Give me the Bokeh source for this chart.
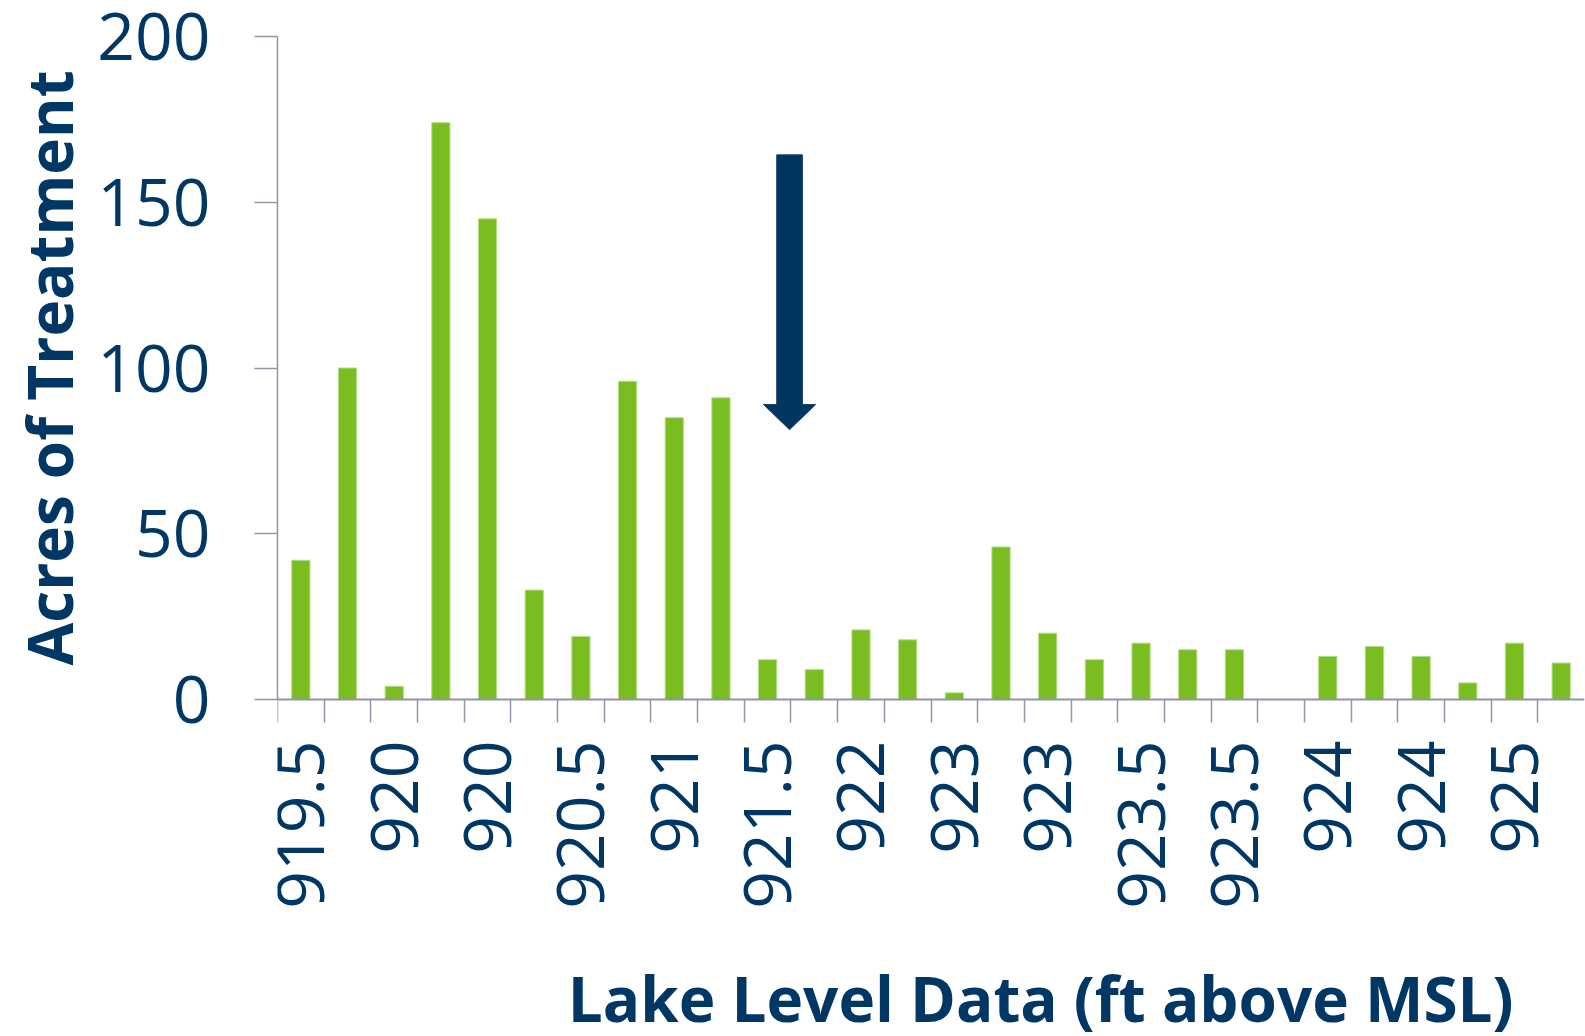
import math
from bokeh.plotting import figure
from bokeh.models import Range1d, FixedTicker, Label, Title, ColumnDataSource
from bokeh.embed import file_html
from bokeh.resources import INLINE

# ---- data ----
positions = list(range(1, 29))
acres = [42, 100, 4, 174, 145, 33, 19, 96, 85, 91, 12, 9, 21, 18, 2, 46,
         20, 12, 17, 15, 15, 0, 13, 16, 13, 5, 17, 11]
label_positions = [1, 3, 5, 7, 9, 11, 13, 15, 17, 19, 21, 23, 25, 27]
tick_labels = ["919.5", "920", "920", "920.5", "921", "921.5", "922",
               "923", "923", "923.5", "923.5", "924", "924", "925"]
y_ticks = [0, 50, 100, 150, 200]
x_title = "Lake Level Data (ft above MSL)"
y_title = "Acres of Treatment"

# arrow annotation (category units / acres)
arrow_x = 11.47
arrow_top = 164.3
arrow_head_base = 89.0
arrow_tip = 81.4
arrow_shaft_half = 0.275
arrow_head_half = 0.56

NAVY = "#003764"
GREEN = "#7ABD21"
GRAY = "#8F96A6"

# layout constants (pixels)
W, H = 1585, 1036
TOP, AXIS_Y = 36, 699          # pixel rows of y=200 and y=0
Y_MAX = 200
y_start = Y_MAX - (H - TOP) / (AXIS_Y - TOP) * Y_MAX   # frame runs to the bottom edge

p = figure(width=W, height=H, output_backend="svg", toolbar_location=None,
           x_range=Range1d(0.5, 28.5), y_range=Range1d(y_start, Y_MAX),
           min_border_left=277, min_border_right=1, min_border_top=TOP,
           min_border_bottom=0)
p.outline_line_color = None
p.xgrid.grid_line_color = None
p.ygrid.grid_line_color = None
p.background_fill_color = "white"
p.border_fill_color = "white"

src = ColumnDataSource(dict(x=positions, top=acres))
p.vbar(x="x", top="top", width=0.39, bottom=0, source=src,
       fill_color=GREEN, line_color="#B3DC88", line_width=1)

ax = arrow_x
arrow_xs = [ax - arrow_shaft_half, ax + arrow_shaft_half, ax + arrow_shaft_half,
            ax + arrow_head_half, ax, ax - arrow_head_half, ax - arrow_shaft_half]
arrow_ys = [arrow_top, arrow_top, arrow_head_base, arrow_head_base, arrow_tip,
            arrow_head_base, arrow_head_base]
p.patch(arrow_xs, arrow_ys, fill_color="#003660", line_color="#1d3f66", line_width=1)

# x axis, drawn at y = 0 inside the frame
xa = p.xaxis[0]
xa.fixed_location = 0
xa.ticker = FixedTicker(ticks=label_positions,
                        minor_ticks=[i + 0.5 for i in range(0, 28)])
xa.major_label_overrides = {k: v for k, v in zip(label_positions, tick_labels)}
xa.major_tick_out = 0
xa.major_tick_in = 0
xa.minor_tick_out = 23
xa.minor_tick_in = 0
xa.minor_tick_line_color = GRAY
xa.minor_tick_line_width = 1.5
xa.axis_line_color = GRAY
xa.axis_line_width = 2
xa.major_label_orientation = math.pi / 2
xa.major_label_standoff = 18
xa.major_label_text_font = "Open Sans"
xa.major_label_text_font_size = "66px"
xa.major_label_text_color = NAVY

# y axis
ya = p.yaxis[0]
ya.bounds = (0, Y_MAX)
ya.ticker = FixedTicker(ticks=y_ticks)
ya.major_tick_out = 23
ya.major_tick_in = 0
ya.minor_tick_out = 0
ya.minor_tick_in = 0
ya.major_tick_line_color = GRAY
ya.major_tick_line_width = 1.5
ya.axis_line_color = GRAY
ya.axis_line_width = 1.5
ya.major_label_standoff = 44
ya.major_label_text_font = "Open Sans"
ya.major_label_text_font_size = "66px"
ya.major_label_text_color = NAVY

# y-axis title, centred on the 0..200 span rather than the full frame
yt = Title(text=y_title, align="left", offset=371, standoff=7,
           text_font="Open Sans", text_font_style="bold", text_font_size="62px",
           text_color=NAVY)
p.add_layout(yt, "left")

# x-axis title under the tick labels
xt = Label(x=16.85, y=-90.0, text=x_title,
           text_align="center", text_baseline="alphabetic",
           text_font="Open Sans", text_font_style="bold", text_font_size="62px",
           text_color=NAVY)
p.add_layout(xt)

open("out.html", "w").write(file_html(p, INLINE))
